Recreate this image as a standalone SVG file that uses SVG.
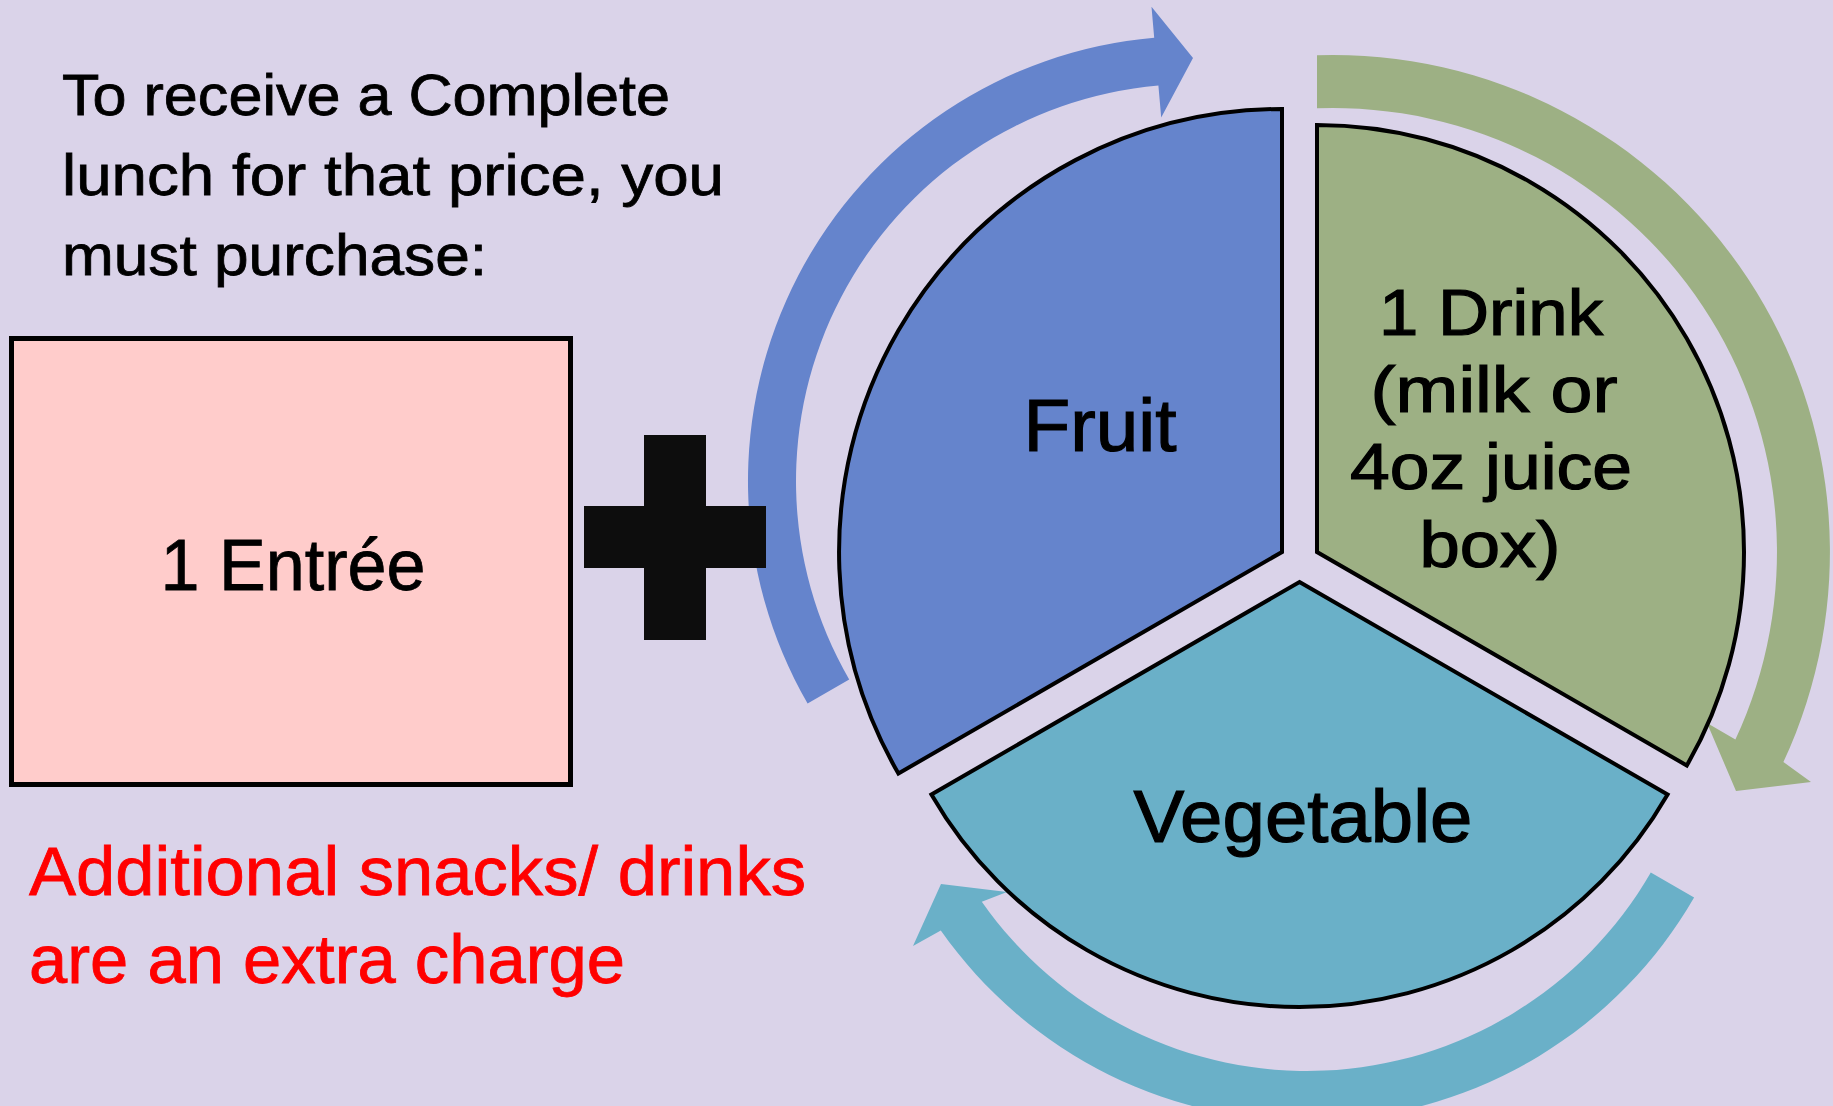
<svg xmlns="http://www.w3.org/2000/svg" width="1833" height="1106" viewBox="0 0 1833 1106">
  <style>
    .txt { font-family: "Liberation Sans", Arial, sans-serif; fill: #000; }
    .title { font-size: 58px; stroke: #000; stroke-width: 0.8; }
    .red { font-size: 68px; fill: #ff0000; stroke: #ff0000; stroke-width: 0.8; }
    .lbl { font-size: 74px; text-anchor: middle; stroke: #000; stroke-width: 1.2; }
    .drk { font-size: 64px; text-anchor: middle; stroke: #000; stroke-width: 1.2; }
    .slice { stroke: #000; stroke-width: 4; stroke-linejoin: miter; }
  </style>
  <rect x="0" y="0" width="1833" height="1106" fill="#dad3e9"/>

  <g id="intro-text">
    <text class="txt title" x="62" y="115" textLength="608" lengthAdjust="spacingAndGlyphs">To receive a Complete</text>
    <text class="txt title" x="62" y="195" textLength="662" lengthAdjust="spacingAndGlyphs">lunch for that price, you</text>
    <text class="txt title" x="62" y="275" textLength="425" lengthAdjust="spacingAndGlyphs">must purchase:</text>
  </g>

  <g id="connectors">
    <path id="arrow-fruit" fill="#6584cc" d="M807.6,703.5 A445,445 0 0,1 1154.2,37.7 L1151.5,6.8 L1193,58 L1161.2,117.4 L1158.4,85.5 A397,397 0 0,0 849.2,679.5 Z"/>
    <path id="arrow-drink" fill="#9db084" d="M1317,55.3 A497,497 0 0,1 1783.4,762 L1811,782 L1736,791 L1707,723 L1735.4,739.6 A444,444 0 0,0 1317,108.3 Z"/>
    <path id="arrow-veg" fill="#6ab0c8" d="M1650.8,872.5 A397,397 0 0,1 981.8,901.7 L1007,892 L941,884 L913,946 L940.8,930.4 A447,447 0 0,0 1694.1,897.5 Z"/>
  </g>

  <g id="entree">
    <rect x="11.5" y="338.5" width="559" height="446" fill="#ffcccb" stroke="#000" stroke-width="5"/>
    <text class="txt" x="293" y="590" font-size="72" text-anchor="middle" stroke="#000" stroke-width="0.8" textLength="265" lengthAdjust="spacingAndGlyphs">1 Entrée</text>
  </g>

  <g id="plus">
    <path fill="#0d0d0d" d="M644,435 H706 V506 H766 V568 H706 V640 H644 V568 H584 V506 H644 Z"/>
  </g>

  <g id="fruit">
    <path class="slice" fill="#6584cc" d="M1282,552 L1282,109 A443,443 0 0,0 898.4,773.5 Z"/>
    <text class="txt lbl" x="1100" y="451" textLength="153" lengthAdjust="spacingAndGlyphs">Fruit</text>
  </g>

  <g id="drink">
    <path class="slice" fill="#9db084" d="M1317,552 L1317,125 A427,427 0 0,1 1686.8,765.5 Z"/>
    <text class="txt drk" x="1491" y="335" textLength="224" lengthAdjust="spacingAndGlyphs">1 Drink</text>
    <text class="txt drk" x="1494" y="412" textLength="247" lengthAdjust="spacingAndGlyphs">(milk or</text>
    <text class="txt drk" x="1491" y="489" textLength="282" lengthAdjust="spacingAndGlyphs">4oz juice</text>
    <text class="txt drk" x="1490" y="567" textLength="141" lengthAdjust="spacingAndGlyphs">box)</text>
  </g>

  <g id="vegetable">
    <path class="slice" fill="#6ab0c8" d="M1299.5,582 L1667.6,794.5 A425,425 0 0,1 931.4,794.5 Z"/>
    <text class="txt lbl" x="1303" y="842" textLength="339" lengthAdjust="spacingAndGlyphs">Vegetable</text>
  </g>

  <g id="note">
    <text class="txt red" x="29" y="895" textLength="777" lengthAdjust="spacingAndGlyphs">Additional snacks/ drinks</text>
    <text class="txt red" x="29" y="983" textLength="596" lengthAdjust="spacingAndGlyphs">are an extra charge</text>
  </g>
</svg>
